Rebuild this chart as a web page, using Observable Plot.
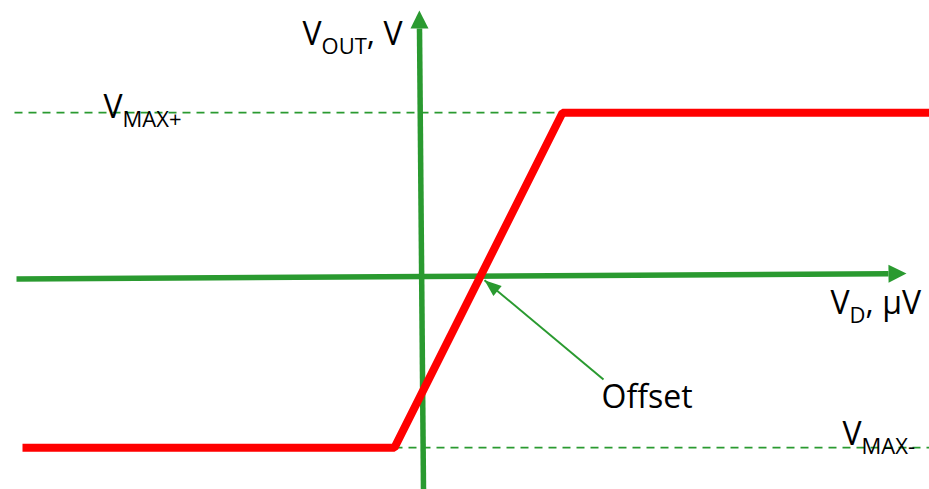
<!DOCTYPE html>
<html><head><meta charset="utf-8">
<script src="https://cdn.jsdelivr.net/npm/d3@7"></script>
<script src="https://cdn.jsdelivr.net/npm/@observablehq/plot@0.6"></script>
<style>html,body{margin:0;padding:0;background:#fff}#chart svg{display:block}</style>
</head><body><div id="chart"></div>
<script>
// ---- data (Vd in µV, Vout in V) ----
const vd   = [-10, -0.7, 3.5, 12.7];
const vout = [-10, -10, 10, 10];
const vMaxPlus = 10, vMaxMinus = -10;
const dashPlusX  = [-10.2, 3.5];
const dashMinusX = [-0.7, 12.7];
// hand-drawn axes (slightly slanted, as in the sketch)
const axisXx = [-10.15, 11.65], axisXy = [0.07, 0.39];
const axisYx = [0.025, -0.075], axisYy = [-12.5, 15.03];
// offset annotation arrow: from label to the zero crossing
const offsetFrom = [4.525, -5.93], offsetTo = [1.55, 0.0];
// labels
const labelText = ["V_{OUT}, V", "V_{MAX+}", "V_{MAX-}", "V_{D}, μV", "Offset"];
const labelX = [-3.0, -7.975, 10.5, 10.2, 4.475];
const labelY = [14.68, 10.32, -9.26, -1.38, -7.0];
const xDomain = [-10.55, 12.675], yDomain = [-12.5, 16.7];

const W = 929, H = 489;
const GREEN = "#2a9a30", RED = "#ff0000";
const FONT = "'Open Sans', sans-serif";

const curve = vd.map((x, i) => ({x, y: vout[i]}));
const dashes = [
  {x1: dashPlusX[0], x2: dashPlusX[1], y: vMaxPlus},
  {x1: dashMinusX[0], x2: dashMinusX[1], y: vMaxMinus}
];
const axes = [
  {x1: axisXx[0], y1: axisXy[0], x2: axisXx[1], y2: axisXy[1]},
  {x1: axisYx[0], y1: axisYy[0], x2: axisYx[1], y2: axisYy[1]}
];
const labels = labelText.map((t, i) => ({t, x: labelX[i], y: labelY[i]}));

const sx = Plot.scale({x: {domain: xDomain, range: [0, W]}});
const sy = Plot.scale({y: {domain: yDomain, range: [H, 0]}});
function angle(x1, y1, x2, y2) {
  const dx = sx.apply(x2) - sx.apply(x1), dy = sy.apply(y2) - sy.apply(y1);
  return Math.atan2(dx, -dy) * 180 / Math.PI;
}
// arrowhead symbols pointing up
const headFromBase = (L, w) => ({draw(ctx) { ctx.moveTo(0, -L); ctx.lineTo(w / 2, 0); ctx.lineTo(-w / 2, 0); ctx.closePath(); }});
const headFromTip = (L, w) => ({draw(ctx) { ctx.moveTo(0, 0); ctx.lineTo(w / 2, L); ctx.lineTo(-w / 2, L); ctx.closePath(); }});

const axisHeads = axes.map(a => ({x: a.x2, y: a.y2, r: angle(a.x1, a.y1, a.x2, a.y2)}));
const offRot = angle(offsetFrom[0], offsetFrom[1], offsetTo[0], offsetTo[1]);

const plot = Plot.plot({
  width: W, height: H,
  margin: 0,
  x: {domain: xDomain, axis: null},
  y: {domain: yDomain, axis: null},
  style: {background: "#fff"},
  marks: [
    Plot.link(dashes, {x1: "x1", x2: "x2", y1: "y", y2: "y", stroke: GREEN, strokeWidth: 1.8, strokeDasharray: "8,6"}),
    Plot.link(axes, {x1: "x1", y1: "y1", x2: "x2", y2: "y2", stroke: GREEN, strokeWidth: 5.5}),
    ...axisHeads.map(h => Plot.dot([h], {x: "x", y: "y", symbol: headFromBase(18, 18), fill: GREEN, stroke: "none", rotate: h.r})),
    Plot.line(curve, {x: "x", y: "y", stroke: RED, strokeWidth: 8, strokeLinejoin: "miter", strokeLinecap: "butt"}),
    Plot.link([{x1: offsetFrom[0], y1: offsetFrom[1], x2: offsetTo[0], y2: offsetTo[1]}], {x1: "x1", y1: "y1", x2: "x2", y2: "y2", stroke: GREEN, strokeWidth: 2}),
    Plot.dot([{x: offsetTo[0], y: offsetTo[1]}], {x: "x", y: "y", symbol: headFromTip(17, 13), fill: GREEN, stroke: "none", rotate: offRot}),
    Plot.text(labels, {x: "x", y: "y", text: "t", textAnchor: "start", fontSize: 32, fontFamily: FONT, fill: "#000"})
  ]
});

// render subscripts (V_{OUT} -> V + subscript tspan)
d3.select(plot).selectAll("text").each(function() {
  const t = d3.select(this);
  const s = t.text();
  if (!s.includes("_{")) return;
  t.text(null);
  let back = false;
  for (const p of s.split(/(_\{[^}]*\})/)) {
    if (!p) continue;
    const m = p.match(/^_\{(.*)\}$/);
    if (m) { t.append("tspan").attr("font-size", 22).attr("dy", 9).text(m[1]); back = true; }
    else { const ts = t.append("tspan").text(p); if (back) { ts.attr("dy", -9); back = false; } }
  }
});
document.getElementById("chart").appendChild(plot);
</script>
</body></html>
